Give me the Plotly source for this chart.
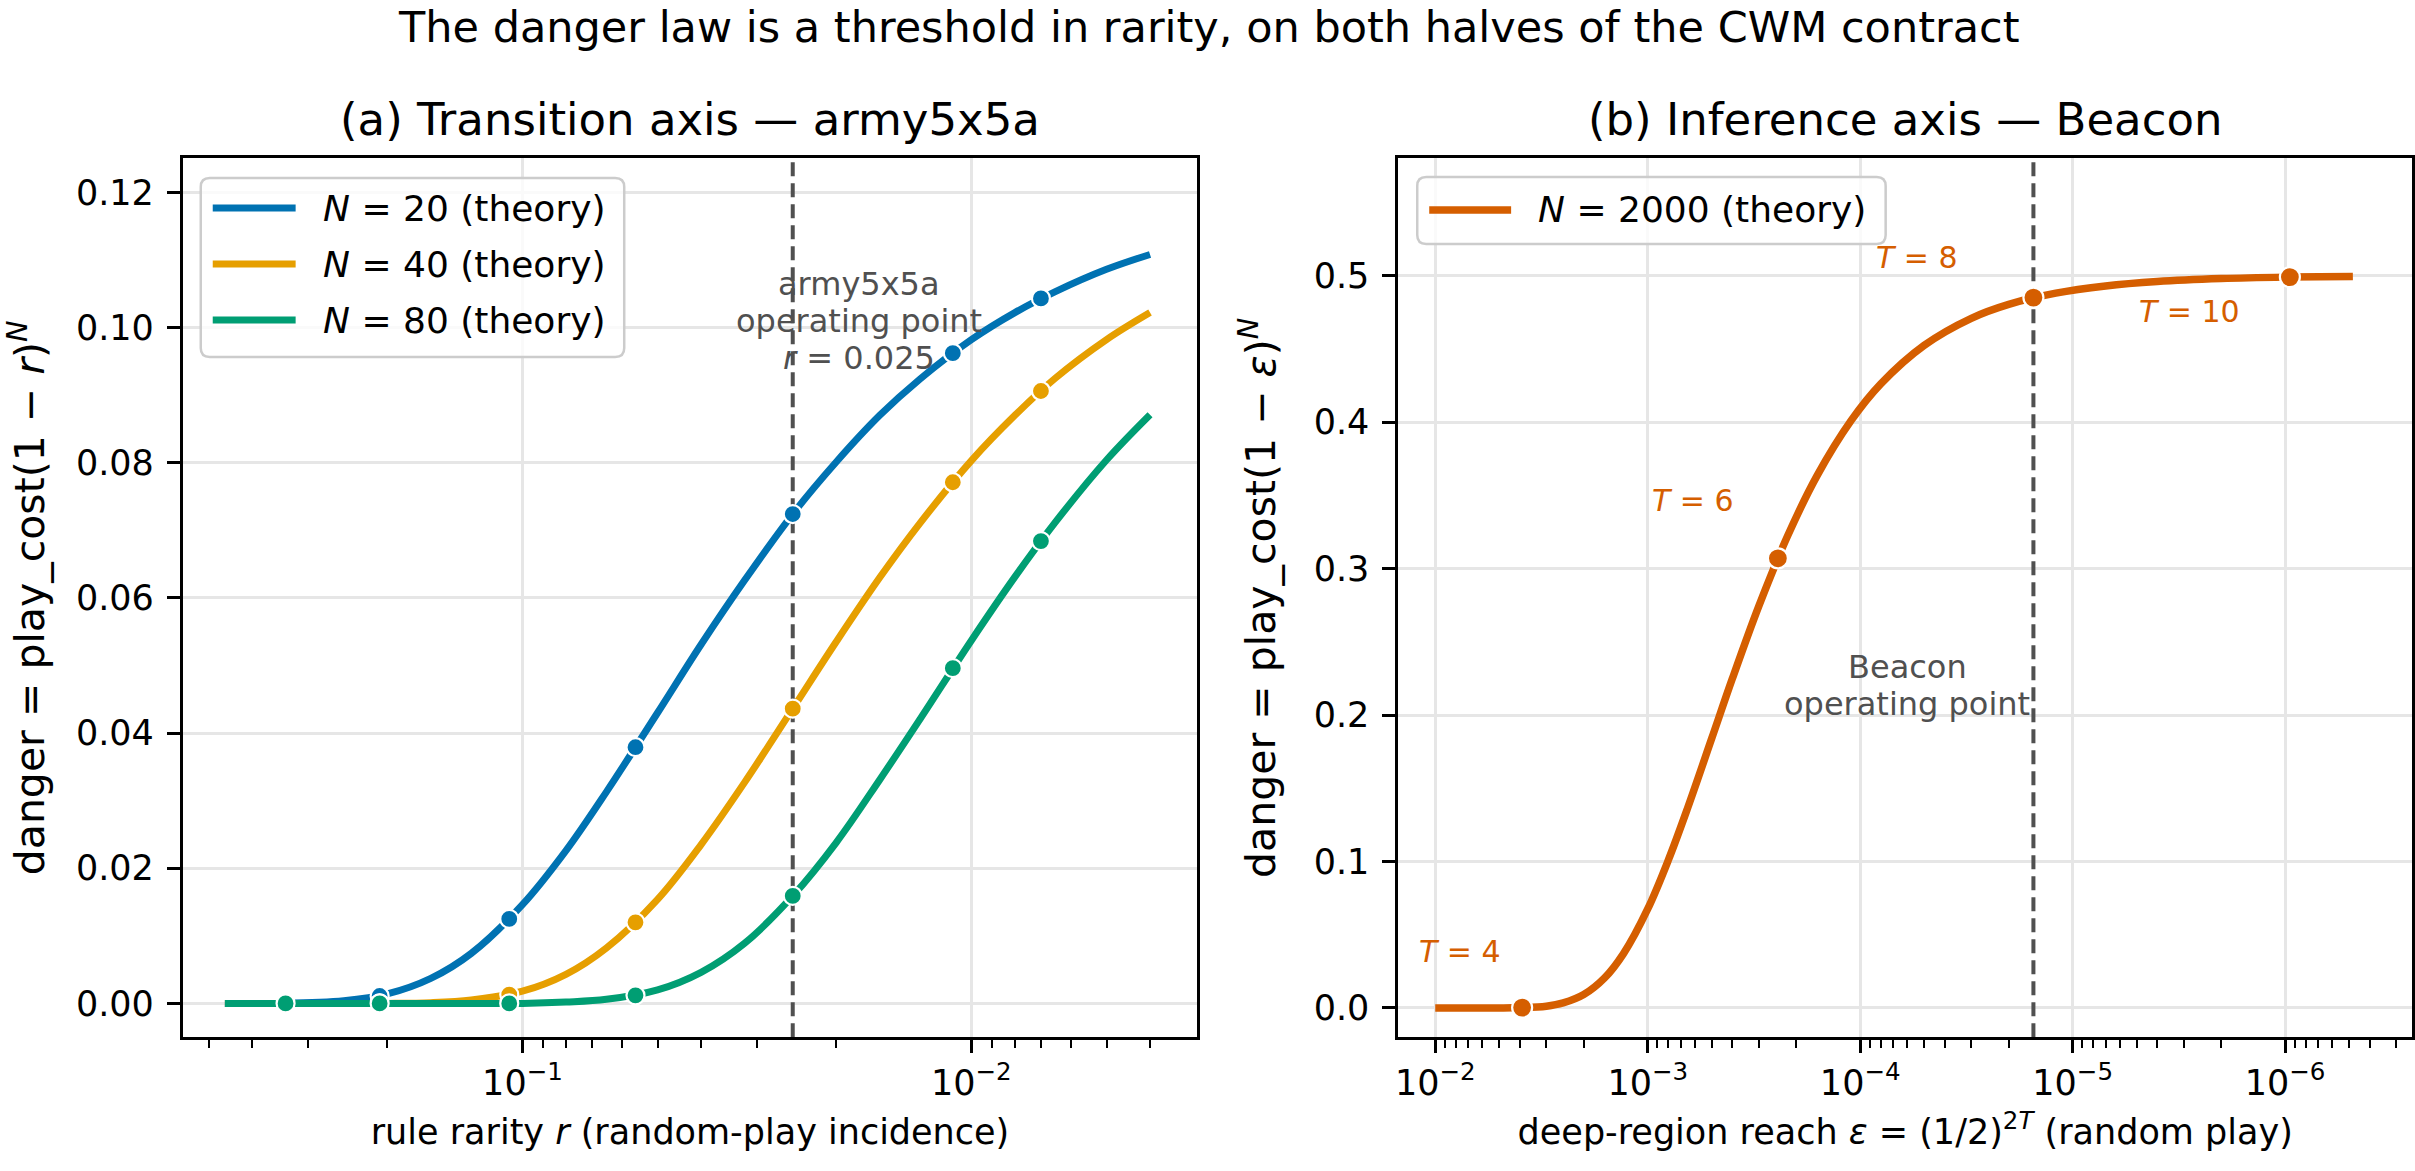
import numpy as np
import plotly.graph_objects as go

FONT = "DejaVu Sans"
W, H = 2415, 1171

# ---------------- data: panel (a) transition axis ----------------
r_curve = [0.46, 0.35, 0.25, 0.2, 0.16, 0.13, 0.1, 0.08, 0.065, 0.05, 0.04, 0.032,
           0.025, 0.02, 0.016, 0.013, 0.01, 0.008, 0.0065, 0.005, 0.004]
danger_n20 = [0.0, 0.0, 0.0004, 0.0014, 0.0037, 0.0074, 0.0146, 0.0226, 0.0313, 0.0430,
              0.0531, 0.0626, 0.0724, 0.0801, 0.0870, 0.0924, 0.0982, 0.1022, 0.1053, 0.1086, 0.1108]
danger_n40 = [0.0, 0.0, 0.0, 0.0, 0.0001, 0.0005, 0.0018, 0.0043, 0.0082, 0.0154,
              0.0235, 0.0327, 0.0436, 0.0535, 0.0630, 0.0711, 0.0803, 0.0870, 0.0925, 0.0982, 0.1022]
danger_n80 = [0.0, 0.0, 0.0, 0.0, 0.0, 0.0, 0.0, 0.0002, 0.0006, 0.0020,
              0.0046, 0.0089, 0.0159, 0.0238, 0.0331, 0.0421, 0.0537, 0.0631, 0.0712, 0.0804, 0.0871]

r_points = [0.337, 0.208, 0.107, 0.056, 0.025, 0.011, 0.007]
points_n20 = [0.0000, 0.0011, 0.0125, 0.0379, 0.0724, 0.0962, 0.1043]
points_n40 = [0.0000, 0.0000, 0.0013, 0.0120, 0.0436, 0.0771, 0.0906]
points_n80 = [0.0000, 0.0000, 0.0000, 0.0012, 0.0159, 0.0496, 0.0684]

series_names = ["<i>N</i> = 20 (theory)", "<i>N</i> = 40 (theory)", "<i>N</i> = 80 (theory)"]
series_colors = ["#0072B2", "#E69F00", "#009E73"]

r_operating = 0.025
army_note_lines = ["army5x5a", "operating point", "<i>r</i> = 0.025"]

# ---------------- data: panel (b) inference axis ----------------
eps_curve = [1e-2, 7e-3, 5e-3, 4e-3, 3e-3, 2.5e-3, 2e-3, 1.6e-3, 1.3e-3, 1e-3, 8e-4, 6.5e-4,
             5e-4, 4e-4, 3e-4, 2.2e-4, 1.6e-4, 1.1e-4, 8e-5, 5e-5, 3e-5, 2e-5, 1.2e-5,
             7e-6, 4e-6, 2e-6, 1e-6, 4.8e-7]
danger_beacon = [0.0, 0.0, 0.0, 0.0002, 0.0012, 0.0034, 0.0091, 0.0203, 0.0371, 0.0676, 0.1009,
                 0.1362, 0.1839, 0.2247, 0.2744, 0.3220, 0.3631, 0.4013, 0.4261, 0.4524, 0.4709,
                 0.4804, 0.4881, 0.4930, 0.4960, 0.4980, 0.4990, 0.4995]
T_values = [4, 6, 8, 10]
eps_T = [3.9e-3, 2.44e-4, 1.53e-5, 9.5e-7]
danger_T = [0.0002, 0.307, 0.485, 0.499]
eps_operating = 1.53e-5
beacon_name = "<i>N</i> = 2000 (theory)"
beacon_color = "#D55E00"
beacon_note_lines = ["Beacon", "operating point"]

# ---------------- axis config ----------------
x1_range = [-0.2434, -2.503]
x2_range = [-1.826, -6.598]
y1_range = [-0.005, 0.125]
y2_range = [-0.02, 0.58]

x1_major = [0.1, 0.01]
x1_major_text = ["10<sup>−1</sup>", "10<sup>−2</sup>"]
x2_major = [1e-2, 1e-3, 1e-4, 1e-5, 1e-6]
x2_major_text = ["10<sup>−2</sup>", "10<sup>−3</sup>", "10<sup>−4</sup>", "10<sup>−5</sup>", "10<sup>−6</sup>"]
y1_ticks = [0, 0.02, 0.04, 0.06, 0.08, 0.10, 0.12]
y2_ticks = [0, 0.1, 0.2, 0.3, 0.4, 0.5]


def minor_vals(lo_exp, hi_exp):
    vals = []
    for e in range(lo_exp, hi_exp + 1):
        for m in range(2, 10):
            vals.append(m * 10.0 ** e)
    return vals


x1_minor = minor_vals(-3, -1)
x2_minor = minor_vals(-7, -2)


def px(x, y):
    """figure pixel (top-left origin) -> paper coords"""
    return x / W, 1 - y / H


fig = go.Figure()

# dashed operating-point lines (underneath)
fig.add_trace(go.Scatter(x=[r_operating, r_operating], y=y1_range, mode="lines",
                         line=dict(color="#505050", width=4, dash="14px,7px"),
                         hoverinfo="skip", xaxis="x", yaxis="y"))
fig.add_trace(go.Scatter(x=[eps_operating, eps_operating], y=y2_range, mode="lines",
                         line=dict(color="#505050", width=4, dash="14px,7px"),
                         hoverinfo="skip", xaxis="x2", yaxis="y2"))

for name, color, curve, pts in zip(series_names, series_colors,
                                   [danger_n20, danger_n40, danger_n80],
                                   [points_n20, points_n40, points_n80]):
    fig.add_trace(go.Scatter(x=r_curve, y=curve, mode="lines", name=name,
                             line=dict(color=color, width=7, shape="spline", smoothing=1.0),
                             xaxis="x", yaxis="y"))
    fig.add_trace(go.Scatter(x=r_points, y=pts, mode="markers", name=name,
                             marker=dict(size=18, color=color, line=dict(color="white", width=2.2)),
                             xaxis="x", yaxis="y"))

fig.add_trace(go.Scatter(x=eps_curve, y=danger_beacon, mode="lines", name=beacon_name,
                         line=dict(color=beacon_color, width=7.5, shape="spline", smoothing=1.0),
                         xaxis="x2", yaxis="y2"))
fig.add_trace(go.Scatter(x=eps_T, y=danger_T, mode="markers", name=beacon_name,
                         marker=dict(size=20, color=beacon_color, line=dict(color="white", width=2.2)),
                         xaxis="x2", yaxis="y2"))

axis_common = dict(showline=True, linecolor="black", linewidth=2.8, mirror=True,
                   ticks="outside", ticklen=13, tickwidth=2.8, tickcolor="black",
                   showgrid=True, gridcolor="#e6e6e6", gridwidth=2.5, zeroline=False,
                   tickfont=dict(family=FONT, size=35, color="black"))
minor_common = dict(ticks="outside", ticklen=7.5, tickwidth=2.2, tickcolor="black", showgrid=False)
xtitle_font = dict(family=FONT, size=35, color="black")
ytitle_font = dict(family=FONT, size=41, color="black")

fig.update_layout(
    width=W, height=H, margin=dict(l=0, r=0, t=0, b=0),
    paper_bgcolor="white", plot_bgcolor="white", showlegend=False,
    font=dict(family=FONT, color="black"),
    xaxis=dict(axis_common, type="log", domain=[0.07453, 0.49511], range=x1_range, anchor="y",
               tickmode="array", tickvals=x1_major, ticktext=x1_major_text,
               minor=dict(minor_common, tickmode="array", tickvals=x1_minor),
               title=dict(text="rule rarity <i>r</i> (random-play incidence)", font=xtitle_font, standoff=18)),
    yaxis=dict(axis_common, domain=[0.11426, 0.86465], range=y1_range, anchor="x",
               tickmode="array", tickvals=y1_ticks, tickformat=".2f", ticklabelstandoff=6,
               title=dict(text="danger = play_cost(1 − <i>r</i>)<sup><i>N</i></sup>", font=ytitle_font, standoff=22)),
    xaxis2=dict(axis_common, type="log", domain=[0.57847, 0.99884], range=x2_range, anchor="y2",
                tickmode="array", tickvals=x2_major, ticktext=x2_major_text,
                minor=dict(minor_common, tickmode="array", tickvals=x2_minor),
                title=dict(text="deep-region reach <i>ε</i> = (1/2)<sup>2<i>T</i></sup> (random play)",
                           font=xtitle_font, standoff=18)),
    yaxis2=dict(axis_common, domain=[0.11426, 0.86465], range=y2_range, anchor="x2",
                tickmode="array", tickvals=y2_ticks, tickformat=".1f", ticklabelstandoff=6,
                title=dict(text="danger = play_cost(1 − <i>ε</i>)<sup><i>N</i></sup>", font=ytitle_font, standoff=26)),
)

annotations = [
    dict(text="The danger law is a threshold in rarity, on both halves of the CWM contract",
         x=0.5, y=1.0, xref="paper", yref="paper", xanchor="center", yanchor="top",
         showarrow=False, font=dict(family=FONT, size=43, color="black")),
    dict(text="(a) Transition axis — army5x5a",
         x=(0.07453 + 0.49511) / 2, y=1 - 120 / H, xref="paper", yref="paper",
         xanchor="center", yanchor="middle", showarrow=False, font=dict(family=FONT, size=45, color="black")),
    dict(text="(b) Inference axis — Beacon",
         x=(0.57847 + 0.99884) / 2, y=1 - 120 / H, xref="paper", yref="paper",
         xanchor="center", yanchor="middle", showarrow=False, font=dict(family=FONT, size=45, color="black")),
]

# operating-point notes, one annotation per line (matplotlib-like tight line spacing)
LINE_STEP = 37
for i, line in enumerate(army_note_lines):
    annotations.append(dict(text=line, x=np.log10(0.0178), y=0.101, xref="x", yref="y",
                            xanchor="center", yanchor="middle",
                            yshift=LINE_STEP * (len(army_note_lines) - 1) / 2 - LINE_STEP * i,
                            showarrow=False, font=dict(family=FONT, size=32, color="#505050")))
for i, line in enumerate(beacon_note_lines):
    annotations.append(dict(text=line, x=np.log10(6.0e-5), y=0.22, xref="x2", yref="y2",
                            xanchor="center", yanchor="middle",
                            yshift=LINE_STEP * (len(beacon_note_lines) - 1) / 2 - LINE_STEP * i,
                            showarrow=False, font=dict(family=FONT, size=32, color="#505050")))

label_shifts = [(-62, 56), (-85, 58), (-116, 40), (-100, -34)]
for T, e, d, (dx, dy) in zip(T_values, eps_T, danger_T, label_shifts):
    annotations.append(dict(text=f"<i>T</i> = {T}", x=np.log10(e), y=d, xref="x2", yref="y2",
                            xanchor="center", yanchor="middle", xshift=dx, yshift=dy,
                            showarrow=False, font=dict(family=FONT, size=30, color=beacon_color)))

# ---------------- legends (matplotlib-style frame with long line samples) ----------------
shapes = []


def rounded_box(x0, y0, x1, y1, rad):
    pts = [(x0 + rad, y0), (x1 - rad, y0), (x1, y0), (x1, y0 + rad), (x1, y1 - rad), (x1, y1),
           (x1 - rad, y1), (x0 + rad, y1), (x0, y1), (x0, y1 - rad), (x0, y0 + rad), (x0, y0),
           (x0 + rad, y0)]
    p = [px(*q) for q in pts]
    f = lambda t: f"{t[0]:.6f},{t[1]:.6f}"
    path = (f"M{f(p[0])} L{f(p[1])} Q{f(p[2])} {f(p[3])} L{f(p[4])} Q{f(p[5])} {f(p[6])} "
            f"L{f(p[7])} Q{f(p[8])} {f(p[9])} L{f(p[10])} Q{f(p[11])} {f(p[12])} Z")
    return dict(type="path", xref="paper", yref="paper", path=path, layer="above",
                fillcolor="rgba(255,255,255,0.8)", line=dict(color="#cccccc", width=2.5))


def legend_block(box, entries, line_x, text_x, row_y0, row_step, lw):
    shapes.append(rounded_box(*box, 9))
    for k, (label, color) in enumerate(entries):
        yy = row_y0 + k * row_step
        a0 = px(line_x[0], yy)
        a1 = px(line_x[1], yy)
        shapes.append(dict(type="line", xref="paper", yref="paper", x0=a0[0], x1=a1[0],
                           y0=a0[1], y1=a1[1], layer="above", line=dict(color=color, width=lw)))
        t = px(text_x, yy)
        annotations.append(dict(text=label, x=t[0], y=t[1], xref="paper", yref="paper",
                                xanchor="left", yanchor="middle", showarrow=False,
                                font=dict(family=FONT, size=36, color="black")))


legend_block((198, 178, 622, 357), list(zip(series_names, series_colors)),
             (210, 293), 318, 208, 56, 7)
legend_block((1416, 177, 1885, 244), [(beacon_name, beacon_color)],
             (1428, 1510), 1535, 210, 0, 7.5)

fig.update_layout(annotations=annotations, shapes=shapes)

fig.write_html("out.html")
